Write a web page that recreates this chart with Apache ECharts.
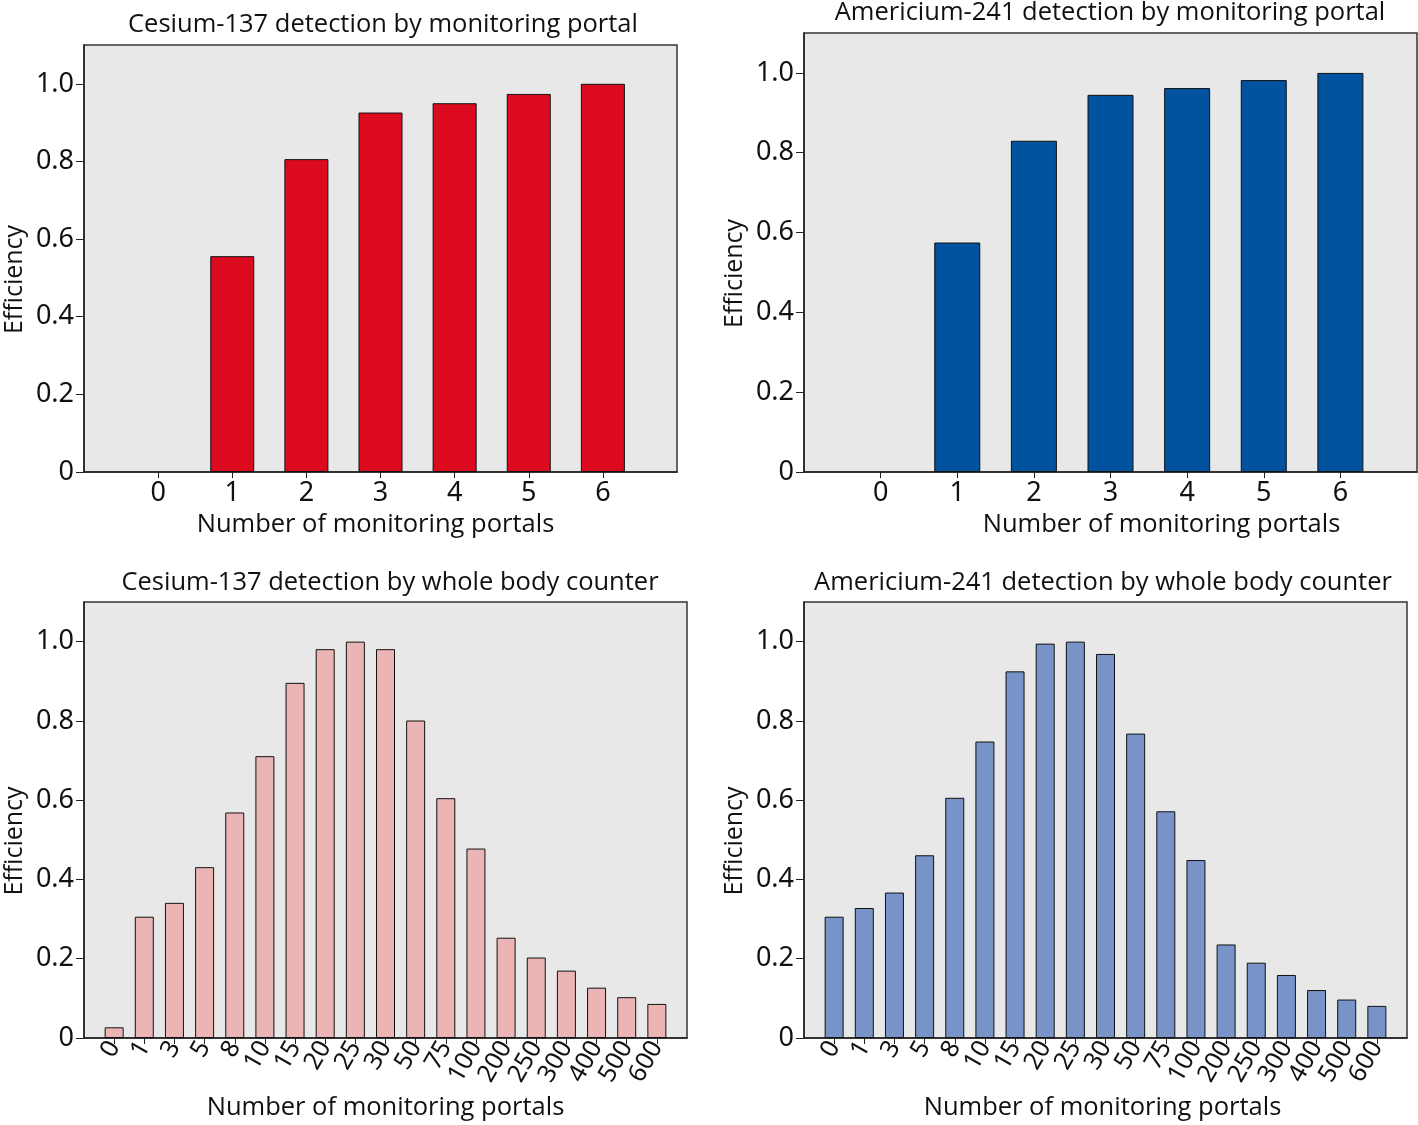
<!DOCTYPE html>
<html>
<head>
<meta charset="utf-8">
<script src="https://cdn.jsdelivr.net/npm/echarts@6/dist/echarts.min.js"></script>
<style>
html,body{margin:0;padding:0;background:#fff;}
#chart{width:1418px;height:1125px;}
</style>
</head>
<body>
<div id="chart"></div>
<script>
// ---- data ----
const portalCategories = ['0','1','2','3','4','5','6'];
const cesiumPortal = [0, 0.556, 0.806, 0.926, 0.950, 0.974, 1.0];
const americiumPortal = [0, 0.575, 0.830, 0.945, 0.962, 0.982, 1.0];

const wbcCategories = ['0','1','3','5','8','10','15','20','25','30','50','75','100','200','250','300','400','500','600'];
const cesiumWBC = [0.027, 0.306, 0.341, 0.431, 0.569, 0.711, 0.896, 0.981, 1.0, 0.981, 0.801, 0.605, 0.478, 0.253, 0.203, 0.170, 0.127, 0.103, 0.086];
const americiumWBC = [0.306, 0.328, 0.367, 0.461, 0.606, 0.748, 0.925, 0.995, 1.0, 0.969, 0.768, 0.572, 0.449, 0.236, 0.190, 0.159, 0.121, 0.097, 0.081];

const yTicks = [0, 0.2, 0.4, 0.6, 0.8, 1.0];
const titles = [
  'Cesium-137 detection by monitoring portal',
  'Americium-241 detection by monitoring portal',
  'Cesium-137 detection by whole body counter',
  'Americium-241 detection by whole body counter'
];
const xName = 'Number of monitoring portals';
const yName = 'Efficiency';

// ---- layout ----
const panels = [
  {left:84, top:45, width:593, height:427, cats:portalCategories, data:cesiumPortal, color:'#dc0a1e', barW:44, rot:0, nameGap:40, namePad:[0,10,0,0], titleX:383, titleY:25},
  {left:804, top:33, width:613, height:439, cats:portalCategories, data:americiumPortal, color:'#01529f', barW:46, rot:0, nameGap:40, namePad:[0,0,0,102], titleX:1110, titleY:13},
  {left:84, top:602, width:603, height:436, cats:wbcCategories, data:cesiumWBC, color:'#ebb5b6', barW:19, rot:60, nameGap:57, namePad:[0,0,0,0], titleX:390, titleY:583},
  {left:804, top:602, width:603, height:436, cats:wbcCategories, data:americiumWBC, color:'#7893c8', barW:19, rot:60, nameGap:57, namePad:[0,6,0,0], titleX:1103, titleY:583}
];

const tickFont = '"Noto Sans", "Open Sans", sans-serif';
const textFont = '"Open Sans", "Noto Sans", sans-serif';

const grid = [], xAxis = [], yAxis = [], series = [], graphic = [];
panels.forEach((p, i) => {
  const idx = p.cats.map((_, k) => k);
  grid.push({left:p.left, top:p.top, width:p.width, height:p.height, show:true,
    backgroundColor:'#e8e8e8', borderColor:'#333', borderWidth:1.5, containLabel:false});
  xAxis.push({
    type:'value', gridIndex:i, min:-1, max:p.cats.length, interval:1,
    name:xName, nameLocation:'middle', nameGap:p.nameGap,
    nameTextStyle:{fontFamily:textFont, fontSize:25.5, color:'#111', padding:p.namePad},
    axisLine:{show:true, onZero:false, lineStyle:{color:'#222', width:1.5}},
    axisTick:{show:true, length:6, customValues:idx, lineStyle:{color:'#222'}},
    axisLabel:{customValues:idx, formatter:(v)=>p.cats[Math.round(v)] ?? '',
      rotate:p.rot, margin:p.rot ? 5 : 8, fontFamily:tickFont, fontSize:p.rot ? 25 : 27, color:'#111'},
    splitLine:{show:false}
  });
  yAxis.push({
    type:'value', gridIndex:i, min:0, max:1.1, interval:0.2,
    name:yName, nameLocation:'middle', nameGap:57,
    nameTextStyle:{fontFamily:textFont, fontSize:25, color:'#111', padding:[0,42,0,0]},
    axisLine:{show:true, onZero:false, lineStyle:{color:'#222', width:1.5}},
    axisTick:{show:true, length:8, customValues:yTicks, lineStyle:{color:'#222'}},
    axisLabel:{customValues:yTicks, formatter:(v)=> v === 0 ? '0' : v.toFixed(1),
      margin:10, fontFamily:tickFont, fontSize:27, color:'#111'},
    splitLine:{show:false}
  });
  series.push({
    type:'bar', xAxisIndex:i, yAxisIndex:i, barWidth:p.barW,
    data:p.data.map((v, k) => ({value:[k, v], itemStyle: v === 0 ? {borderWidth:0} : undefined})),
    itemStyle:{color:p.color, borderColor:'#111', borderWidth:1},
    emphasis:{disabled:true}, animation:false
  });
  graphic.push({type:'text', x:p.titleX, y:p.titleY,
    style:{text:titles[i], fontFamily:textFont, fontSize:25.5, fill:'#111',
      textAlign:'center', textVerticalAlign:'middle'}});
});

const chart = echarts.init(document.getElementById('chart'), null, {renderer:'canvas'});
chart.setOption({backgroundColor:'#fff', animation:false, grid, xAxis, yAxis, series, graphic});
</script>
</body>
</html>
